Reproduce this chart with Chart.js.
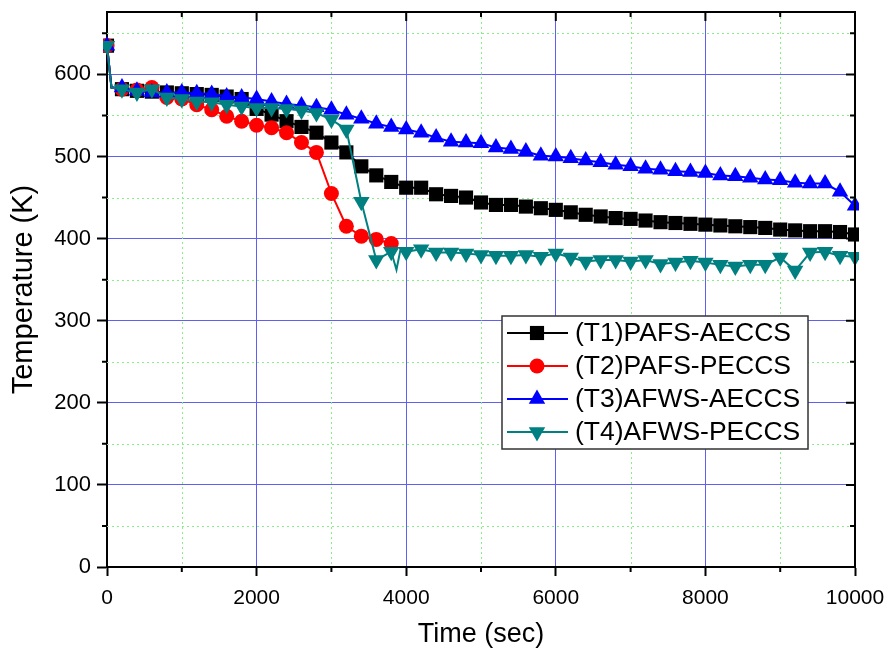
<!DOCTYPE html>
<html>
<head>
<meta charset="utf-8">
<script src="https://cdn.jsdelivr.net/npm/chart.js@4.4.0/dist/chart.umd.min.js"></script>
<style>
  html, body { margin: 0; padding: 0; background: #fff; }
  #wrap { width: 888px; height: 653px; }
</style>
</head>
<body>
<div id="wrap"><canvas id="tempChart" width="888" height="653"></canvas></div>
<script>
const seriesNames = ['(T1)PAFS-AECCS', '(T2)PAFS-PECCS', '(T3)AFWS-AECCS', '(T4)AFWS-PECCS'];

const t1Time = [0, 60, 200, 400, 600, 800, 1000, 1200, 1400, 1600, 1800, 2000, 2200, 2400, 2600, 2800, 3000, 3200, 3400, 3600, 3800,
  4000, 4200, 4400, 4600, 4800, 5000, 5200, 5400, 5600, 5800, 6000, 6200, 6400, 6600, 6800, 7000, 7200, 7400, 7600, 7800,
  8000, 8200, 8400, 8600, 8800, 9000, 9200, 9400, 9600, 9800, 10000];
const t1Temp = [635, 584, 582, 580, 579, 578, 577, 576, 575, 573, 570, 558, 551, 543, 536, 529, 517, 505, 488, 477, 469,
  462, 462, 454, 452, 450, 444, 441, 441, 439, 437, 435, 432, 429, 427, 425, 424, 422, 420, 419, 418,
  417, 416, 415, 414, 413, 411, 410, 409, 409, 408, 405];

const t2Time = [0, 60, 200, 400, 600, 800, 1000, 1200, 1400, 1600, 1800, 2000, 2200, 2400, 2600, 2800, 3000, 3200, 3400, 3600, 3800];
const t2Temp = [635, 584, 582, 581, 584, 572, 570, 563, 557, 549, 543, 538, 535, 529, 517, 505, 455, 415, 403, 399, 394];

const t3Time = t1Time;
const t3Temp = [635, 584, 584, 580, 578, 578, 578, 577, 576, 573, 572, 570, 567, 564, 562, 560, 557, 551, 546, 540, 536,
  533, 529, 523, 518, 517, 516, 511, 509, 506, 501, 500, 498, 495, 493, 490, 488, 485, 484, 482, 481,
  480, 477, 476, 474, 472, 471, 468, 467, 467, 457, 440];

const t4Time = [0, 60, 200, 400, 600, 800, 1000, 1200, 1400, 1600, 1800, 2000, 2200, 2400, 2600, 2800, 3000, 3200, 3400, 3600, 3800,
  3870, 3920, 4000, 4200, 4400, 4600, 4800, 5000, 5200, 5400, 5600, 5800, 6000, 6200, 6400, 6600, 6800, 7000, 7200, 7400, 7600, 7800,
  8000, 8200, 8400, 8600, 8800, 9000, 9200, 9400, 9600, 9800, 10000];
const t4Temp = [635, 584, 582, 578, 582, 572, 570, 567, 566, 563, 561, 559, 559, 558, 556, 553, 545, 533, 445, 374, 384,
  362, 385, 384, 387, 383, 383, 382, 380, 379, 379, 380, 378, 382, 377, 372, 374, 374, 372, 374, 369, 371, 373,
  371, 368, 366, 368, 368, 377, 361, 383, 384, 379, 378];

// times where the trace has no symbol, only the line
const lineOnlyTimes = [60, 3870, 3920];

const xMajorTicks = [0, 2000, 4000, 6000, 8000, 10000];
const xMinorTicks = [1000, 3000, 5000, 7000, 9000];
const yMajorTicks = [0, 100, 200, 300, 400, 500, 600];
const yMinorTicks = [50, 150, 250, 350, 450, 550, 650];

const FONT = "'Liberation Sans', Arial, sans-serif";

function toPoints(times, temps) {
  return times.map((t, i) => ({ x: t, y: temps[i] }));
}

const seriesStyles = [
  { color: '#000000', pointStyle: 'rect', radius: 10, rotation: 0 },
  { color: '#ff0000', pointStyle: 'circle', radius: 7.5, rotation: 0 },
  { color: '#0000ff', pointStyle: 'triangle', radius: 9.5, rotation: 0 },
  { color: '#008080', pointStyle: 'triangle', radius: 9.5, rotation: 180 },
];

const seriesData = [
  toPoints(t1Time, t1Temp),
  toPoints(t2Time, t2Temp),
  toPoints(t3Time, t3Temp),
  toPoints(t4Time, t4Temp),
];

const datasets = seriesData.map((data, i) => {
  const s = seriesStyles[i];
  return {
    label: seriesNames[i],
    data,
    borderColor: s.color,
    backgroundColor: s.color,
    pointBackgroundColor: s.color,
    pointBorderColor: s.color,
    borderWidth: 2,
    pointStyle: s.pointStyle,
    pointRotation: s.rotation,
    pointRadius: ctx => (lineOnlyTimes.includes(ctx.raw && ctx.raw.x) ? 0 : s.radius),
    pointBorderWidth: 0,
    tension: 0,
    order: 4 - i,
    clip: 4,
  };
});

const axisExtras = {
  id: 'axisExtras',
  beforeDatasetsDraw(chart) {
    const { ctx, chartArea: a, scales: { x, y } } = chart;
    ctx.save();
    ctx.strokeStyle = '#88ee88';
    ctx.lineWidth = 1;
    ctx.setLineDash([2, 3]);
    ctx.beginPath();
    xMinorTicks.forEach(v => {
      const px = Math.round(x.getPixelForValue(v)) + 0.5;
      ctx.moveTo(px, a.top);
      ctx.lineTo(px, a.bottom);
    });
    yMinorTicks.forEach(v => {
      const py = Math.round(y.getPixelForValue(v)) + 0.5;
      ctx.moveTo(a.left, py);
      ctx.lineTo(a.right, py);
    });
    ctx.stroke();
    ctx.restore();
  },
  afterDatasetsDraw(chart) {
    const { ctx, chartArea: a, scales: { x, y } } = chart;
    ctx.save();
    ctx.strokeStyle = '#000';
    ctx.lineWidth = 2;
    ctx.beginPath();
    // top and right frame
    ctx.moveTo(a.left, a.top);
    ctx.lineTo(a.right, a.top);
    ctx.lineTo(a.right, a.bottom);
    // inward ticks on the right and top
    yMajorTicks.forEach(v => { const py = y.getPixelForValue(v); ctx.moveTo(a.right, py); ctx.lineTo(a.right - 9, py); });
    yMinorTicks.forEach(v => { const py = y.getPixelForValue(v); ctx.moveTo(a.right, py); ctx.lineTo(a.right - 5, py); });
    xMajorTicks.forEach(v => { const px = x.getPixelForValue(v); ctx.moveTo(px, a.top); ctx.lineTo(px, a.top + 9); });
    xMinorTicks.forEach(v => { const px = x.getPixelForValue(v); ctx.moveTo(px, a.top); ctx.lineTo(px, a.top + 5); });
    // outward minor ticks on the left and bottom
    yMinorTicks.forEach(v => { const py = y.getPixelForValue(v); ctx.moveTo(a.left, py); ctx.lineTo(a.left - 5, py); });
    xMinorTicks.forEach(v => { const px = x.getPixelForValue(v); ctx.moveTo(px, a.bottom); ctx.lineTo(px, a.bottom + 5); });
    ctx.stroke();
    ctx.restore();
  },
  afterDraw(chart) {
    const { ctx } = chart;
    const box = { left: 502, top: 316, right: 808, bottom: 449 };
    ctx.save();
    ctx.fillStyle = '#fff';
    ctx.fillRect(box.left, box.top, box.right - box.left, box.bottom - box.top);
    ctx.strokeStyle = '#333';
    ctx.lineWidth = 1.5;
    ctx.strokeRect(box.left, box.top, box.right - box.left, box.bottom - box.top);
    ctx.font = `26.5px ${FONT}`;
    ctx.textBaseline = 'middle';
    seriesNames.forEach((name, i) => {
      const s = seriesStyles[i];
      const yy = 333 + i * 33;
      ctx.strokeStyle = s.color;
      ctx.fillStyle = s.color;
      ctx.lineWidth = 2;
      ctx.beginPath();
      ctx.moveTo(507, yy);
      ctx.lineTo(568, yy);
      ctx.stroke();
      Chart.helpers.drawPoint(ctx, { pointStyle: s.pointStyle, radius: s.radius, rotation: s.rotation, borderWidth: 0 }, 537, yy);
      ctx.fillStyle = '#000';
      ctx.fillText(name, 575, yy + 1);
    });
    ctx.restore();
  },
};

new Chart(document.getElementById('tempChart'), {
  type: 'line',
  data: { datasets },
  plugins: [axisExtras],
  options: {
    responsive: false,
    animation: false,
    layout: { padding: { left: 0, right: 33, top: 12, bottom: 0 } },
    plugins: { legend: { display: false }, tooltip: { enabled: false } },
    scales: {
      x: {
        type: 'linear',
        min: 0,
        max: 10000,
        afterFit: scale => {
          scale.height = 86;
          scale.paddingLeft = 0;
          scale.paddingRight = 0;
        },
        ticks: {
          stepSize: 2000,
          includeBounds: false,
          color: '#000',
          padding: 10,
          maxRotation: 0,
          callback: v => String(v),
          font: { family: FONT, size: 21 },
        },
        grid: { color: '#6060f0', lineWidth: 1, tickColor: '#000', tickLength: 9, tickWidth: 2 },
        border: { color: '#000', width: 2 },
        title: { display: true, text: 'Time (sec)', color: '#000', font: { family: FONT, size: 27 }, padding: { top: 0, bottom: 2 } },
      },
      y: {
        type: 'linear',
        min: 0,
        max: 676,
        afterFit: scale => {
          scale.width = 107;
          scale.paddingTop = 0;
          scale.paddingBottom = 0;
        },
        ticks: {
          stepSize: 100,
          includeBounds: false,
          color: '#000',
          padding: 6,
          callback: v => String(v),
          font: { family: FONT, size: 22 },
        },
        grid: { color: '#6060f0', lineWidth: 1, tickColor: '#000', tickLength: 10, tickWidth: 2 },
        border: { color: '#000', width: 2 },
        title: { display: true, text: 'Temperature (K)', color: '#000', font: { family: FONT, size: 29 }, padding: { top: 7, bottom: 0 } },
      },
    },
  },
});
</script>
</body>
</html>
